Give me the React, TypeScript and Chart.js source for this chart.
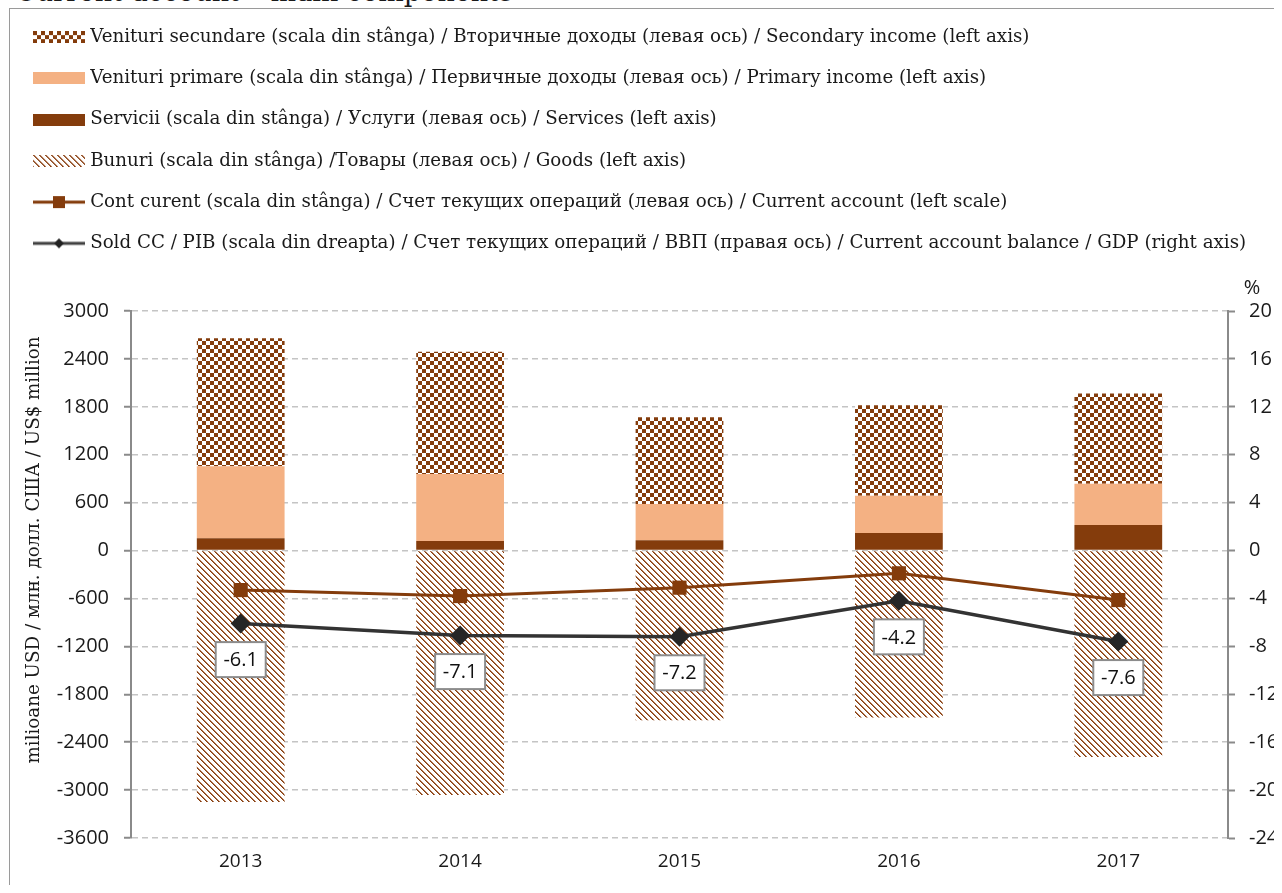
import React, { useEffect, useRef } from 'react';
import { Chart, registerables } from 'chart.js';

Chart.register(...registerables);

// ---- data ----
const years = ['2013', '2014', '2015', '2016', '2017'];
const secondaryIncome = [1605, 1530, 1085, 1135, 1130];
const primaryIncome = [900, 840, 455, 465, 518];
const services = [155, 120, 128, 220, 320];
const goods = [-3150, -3060, -2125, -2090, -2585];
const currentAccount = [-495, -570, -465, -285, -620];
const caGdpRatio = [-6.1, -7.1, -7.2, -4.2, -7.6];

const leftMin = -3600;
const leftMax = 3000;
const leftStep = 600;
const rightMin = -24;
const rightMax = 20;
const rightStep = 4;

const legendLabels = [
  'Venituri secundare (scala din stânga) / Вторичные доходы (левая ось) / Secondary income (left axis)',
  'Venituri primare (scala din stânga) / Первичные доходы (левая ось) / Primary income (left axis)',
  'Servicii (scala din stânga) / Услуги (левая ось) / Services (left axis)',
  'Bunuri (scala din stânga) /Товары (левая ось) / Goods (left axis)',
  'Cont curent (scala din stânga) / Счет текущих операций (левая ось) / Current account (left scale)',
  'Sold CC / PIB (scala din dreapta) / Счет текущих операций / ВВП (правая ось) / Current account balance / GDP (right axis)',
];
const leftAxisTitle = 'milioane USD / млн. долл. США / US$ million';
const rightAxisUnit = '%';
const pageTitle = 'Current account – main components';

// ---- styles ----
const BROWN = '#843C0C';
const PEACH = '#F4B183';
const DARK = '#333333';
const TEXT = '#1a1a1a';
const SANS = '"Open Sans", "DejaVu Sans", sans-serif';
const SERIF = '"DejaVu Serif", "Liberation Serif", serif';
const LEGEND_FONT = 18.25;

if (typeof document !== 'undefined') {
  document.documentElement.style.overflow = 'hidden';
}

function makeTile(kind: 'checker' | 'diag'): HTMLCanvasElement {
  const size = kind === 'checker' ? 8 : 6;
  const c = document.createElement('canvas');
  c.width = size;
  c.height = size;
  const ctx = c.getContext('2d')!;
  const img = ctx.createImageData(size, size);
  for (let y = 0; y < size; y++) {
    for (let x = 0; x < size; x++) {
      let rgb = [255, 255, 255];
      if (kind === 'checker') {
        if ((Math.floor(x / 4) + Math.floor(y / 4)) % 2 === 0) rgb = [132, 60, 12];
      } else {
        const d = (((x - y) % 6) + 6) % 6;
        if (d === 0) rgb = [132, 60, 12];
        else if (d === 1) rgb = [176, 118, 84];
      }
      const i = (y * size + x) * 4;
      img.data[i] = rgb[0];
      img.data[i + 1] = rgb[1];
      img.data[i + 2] = rgb[2];
      img.data[i + 3] = 255;
    }
  }
  ctx.putImageData(img, 0, 0);
  return c;
}

function makeLegendBox(fill: string | ((ctx: CanvasRenderingContext2D) => CanvasPattern)): HTMLCanvasElement {
  const c = document.createElement('canvas');
  c.width = 52;
  c.height = 12;
  const ctx = c.getContext('2d')!;
  ctx.fillStyle = typeof fill === 'function' ? fill(ctx) : fill;
  ctx.fillRect(0, 0, 52, 12);
  return c;
}

function makeLegendLine(color: string, marker: 'rect' | 'diamond'): HTMLCanvasElement {
  const c = document.createElement('canvas');
  c.width = 52;
  c.height = 14;
  const ctx = c.getContext('2d')!;
  ctx.strokeStyle = color;
  ctx.lineWidth = 3;
  ctx.beginPath();
  ctx.moveTo(0, 7);
  ctx.lineTo(52, 7);
  ctx.stroke();
  ctx.fillStyle = marker === 'rect' ? color : '#222';
  if (marker === 'rect') {
    ctx.fillRect(20, 1, 12, 12);
  } else {
    ctx.beginPath();
    ctx.moveTo(26, 2);
    ctx.lineTo(31, 7);
    ctx.lineTo(26, 12);
    ctx.lineTo(21, 7);
    ctx.closePath();
    ctx.fill();
  }
  return c;
}

export default function App() {
  const ref = useRef<HTMLCanvasElement>(null);

  useEffect(() => {
    const canvas = ref.current!;
    const ctx0 = canvas.getContext('2d')!;
    const checkerTile = makeTile('checker');
    const diagTile = makeTile('diag');
    const checkerPattern = ctx0.createPattern(checkerTile, 'repeat')!;
    const diagPattern = ctx0.createPattern(diagTile, 'repeat')!;

    const legendImgs: HTMLCanvasElement[] = [];
    // dataset index order: 0 services, 1 primary, 2 secondary, 3 goods, 4 CA, 5 ratio
    legendImgs[0] = makeLegendBox(BROWN);
    legendImgs[1] = makeLegendBox(PEACH);
    legendImgs[2] = makeLegendBox((c) => c.createPattern(checkerTile, 'repeat')!);
    legendImgs[3] = makeLegendBox((c) => c.createPattern(diagTile, 'repeat')!);
    legendImgs[4] = makeLegendLine(BROWN, 'rect');
    legendImgs[5] = makeLegendLine('#404040', 'diamond');
    const legendOrder = [2, 1, 0, 3, 4, 5];
    const legendText: Record<number, string> = {
      2: legendLabels[0],
      1: legendLabels[1],
      0: legendLabels[2],
      3: legendLabels[3],
      4: legendLabels[4],
      5: legendLabels[5],
    };

    const legendHeightPlugin = {
      id: 'legendHeight',
      beforeInit(chart: any) {
        const legend = chart.legend;
        const orig = legend.fit;
        legend.fit = function () {
          orig.call(this);
          this.height = 306;
        };
      },
    };

    const decorPlugin = {
      id: 'decor',
      afterDatasetsDraw(chart: any) {
        const ctx = chart.ctx;
        const meta = chart.getDatasetMeta(5);
        ctx.save();
        meta.data.forEach((pt: any, i: number) => {
          const x = pt.x;
          const y = pt.y + 36;
          const w = 50;
          const h = 35;
          ctx.fillStyle = '#ffffff';
          ctx.fillRect(x - w / 2, y - h / 2, w, h);
          ctx.strokeStyle = '#8c8c8c';
          ctx.lineWidth = 2;
          ctx.strokeRect(x - w / 2, y - h / 2, w, h);
          ctx.fillStyle = '#111111';
          ctx.font = `20px ${SANS}`;
          ctx.textAlign = 'center';
          ctx.textBaseline = 'middle';
          ctx.fillText(caGdpRatio[i].toFixed(1), x, y + 1);
        });
        ctx.restore();
      },
      afterDraw(chart: any) {
        const ctx = chart.ctx;
        ctx.save();
        ctx.translate(24, 545);
        ctx.rotate(-Math.PI / 2);
        ctx.font = `${LEGEND_FONT}px ${SERIF}`;
        ctx.fillStyle = TEXT;
        ctx.textAlign = 'center';
        ctx.textBaseline = 'middle';
        ctx.fillText(leftAxisTitle, 0, 0);
        ctx.restore();
        ctx.save();
        const ya = chart.scales.y1;
        ctx.font = `20px ${SANS}`;
        ctx.fillStyle = TEXT;
        ctx.textAlign = 'center';
        ctx.textBaseline = 'middle';
        ctx.fillText(rightAxisUnit, ya.left + 24, chart.chartArea.top - 23);
        ctx.restore();
      },
    };

    const barCommon = {
      type: 'bar' as const,
      stack: 'bars',
      yAxisID: 'y',
      barPercentage: 0.4,
      categoryPercentage: 1,
      borderWidth: 0,
      order: 3,
    };

    const chart = new Chart(canvas, {
      type: 'bar',
      data: {
        labels: years,
        datasets: [
          { ...barCommon, label: legendLabels[2], data: services, backgroundColor: BROWN },
          { ...barCommon, label: legendLabels[1], data: primaryIncome, backgroundColor: PEACH },
          { ...barCommon, label: legendLabels[0], data: secondaryIncome, backgroundColor: checkerPattern },
          { ...barCommon, label: legendLabels[3], data: goods, backgroundColor: diagPattern },
          {
            type: 'line',
            label: legendLabels[4],
            data: currentAccount,
            yAxisID: 'y',
            stack: 'ca',
            borderColor: BROWN,
            backgroundColor: BROWN,
            borderWidth: 3,
            pointStyle: 'rect',
            pointRadius: 10,
            pointBorderWidth: 0,
            pointBackgroundColor: BROWN,
            tension: 0,
            order: 1,
          } as any,
          {
            type: 'line',
            label: legendLabels[5],
            data: caGdpRatio,
            yAxisID: 'y1',
            borderColor: DARK,
            backgroundColor: '#262626',
            borderWidth: 3.5,
            pointStyle: 'rectRot',
            pointRadius: 10,
            pointBorderWidth: 0,
            pointBackgroundColor: '#262626',
            tension: 0,
            order: 0,
          } as any,
        ],
      },
      options: {
        responsive: false,
        animation: false,
        events: [],
        devicePixelRatio: 1,
        layout: { autoPadding: false, padding: { left: 4, right: 0, top: 0, bottom: 0 } },
        plugins: {
          tooltip: { enabled: false },
          legend: {
            position: 'top',
            align: 'start',
            labels: {
              usePointStyle: true,
              pointStyleWidth: 44,
              boxHeight: 12,
              padding: 23,
              color: TEXT,
              font: { family: SERIF, size: LEGEND_FONT },
              generateLabels: () =>
                legendOrder.map((i) => ({
                  text: legendText[i],
                  datasetIndex: i,
                  pointStyle: legendImgs[i],
                  hidden: false,
                  fontColor: TEXT,
                  fillStyle: 'rgba(0,0,0,0)',
                  strokeStyle: 'rgba(0,0,0,0)',
                  lineWidth: 0,
                })) as any,
            },
          },
        },
        scales: {
          x: {
            stacked: true,
            grid: { display: false, drawTicks: false },
            border: { display: false },
            ticks: { font: { family: SANS, size: 19 }, color: TEXT, padding: 12.5 },
            afterFit: (s: any) => { s.height = 52; },
          },
          y: {
            position: 'left',
            stacked: true,
            min: leftMin,
            max: leftMax,
            ticks: {
              stepSize: leftStep,
              padding: 15,
              font: { family: SANS, size: 20 },
              color: TEXT,
              callback: (v: any) => String(v),
            },
            grid: {
              color: '#c4c4c4',
              lineWidth: 1.5,
              drawTicks: true,
              tickLength: 7,
              tickColor: '#8a8a8a',
              tickWidth: 2,
            },
            border: { display: true, color: '#8a8a8a', width: 2, dash: [6, 4] },
            afterFit: (s: any) => { s.width = 117; },
          },
          y1: {
            position: 'right',
            min: rightMin,
            max: rightMax,
            ticks: {
              stepSize: rightStep,
              padding: 14,
              font: { family: SANS, size: 20 },
              color: TEXT,
              callback: (v: any) => String(v),
            },
            grid: {
              drawOnChartArea: false,
              drawTicks: true,
              tickLength: 7,
              tickColor: '#8a8a8a',
              tickWidth: 2,
            },
            border: { display: true, color: '#8a8a8a', width: 2 },
            afterFit: (s: any) => { s.width = 54; },
          },
        },
      } as any,
      plugins: [legendHeightPlugin, decorPlugin],
    } as any);

    return () => chart.destroy();
  }, []);

  return (
    <>
      <div
        style={{
          position: 'absolute',
          left: 15,
          top: -22,
          font: `27px ${SERIF}`,
          lineHeight: '27px',
          whiteSpace: 'nowrap',
          color: TEXT,
        }}
      >
        {pageTitle}
      </div>
      <div style={{ position: 'relative', width: 1274, height: 885, marginBottom: -8, overflow: 'hidden' }}>
        <div
          style={{
            position: 'absolute',
            left: 1,
            top: 0,
            width: 1400,
            height: 1000,
            border: '1px solid #9a9a9a',
            boxSizing: 'border-box',
          }}
        />
        <canvas
          ref={ref}
          width={1272}
          height={885}
          style={{ position: 'absolute', left: 2, top: -3, width: 1272, height: 885 }}
        />
      </div>
    </>
  );
}
